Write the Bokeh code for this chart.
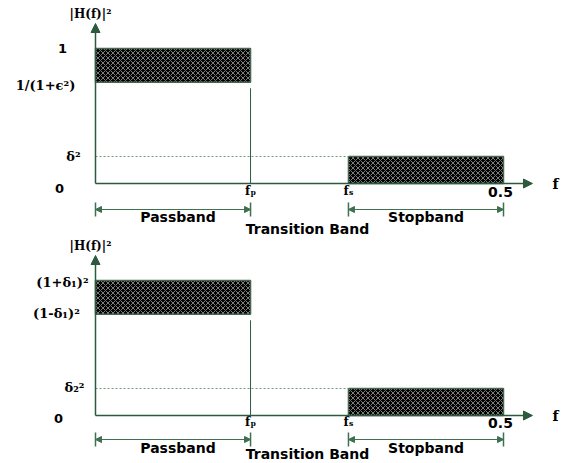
from bokeh.plotting import figure
from bokeh.models import Range1d, Arrow, NormalHead
from bokeh.core.properties import value
from bokeh.embed import file_html
from bokeh.resources import INLINE

# ---------------- data ----------------
f_pass = 0.19          # passband edge fp
f_stop = 0.31          # stopband edge fs
f_max = 0.5            # Nyquist
x_tick_labels = ["fₚ", "fₛ", "0.5"]

top_levels = [1.0, 0.75, 0.2]      # pass upper, pass lower, stop level
top_level_labels = ["1", "1/(1+ϵ²)", "δ²", "0"]
bot_levels = [1.0, 0.75, 0.2]
bot_level_labels = ["(1+δ₁)²", "(1-δ₁)²", "δ₂²", "0"]
band_labels = ["Passband", "Transition Band", "Stopband"]
y_title = "|H(f)|²"
x_title = "f"

# ---------------- layout ----------------
W, H = 562, 463
PX_X = 816.0   # px per unit of f
PX_Y = 135.0   # px per unit of magnitude
def dx(px):
    return px / PX_X
def dy(px):
    return px / PX_Y

x0 = -95 / PX_X
top_end = 1 + 48 / PX_Y
bot_start = -(H - 415) / PX_Y

p = figure(width=W, height=H, output_backend="svg", toolbar_location=None,
           x_range=Range1d(x0, x0 + W / PX_X),
           y_range=Range1d(top_end - H / PX_Y, top_end),
           x_axis_location=None, y_axis_location=None,
           min_border=0, outline_line_color=None, background_fill_color="white")
p.extra_y_ranges = {"bot": Range1d(bot_start, bot_start + H / PX_Y)}
p.grid.visible = False

AXIS_C = "#2c5a3c"
BOX_C = "#466650"
DIM_C = "#3f7050"
DASH_C = "#6f9a7c"
SERIF = value("DejaVu Serif")
SANS = value("DejaVu Sans")


def txt(x, y, s, rn, font, size, align="center"):
    p.text(x=[x], y=[y], text=[s], text_font=font, text_font_style="bold",
           text_font_size=size, text_align=align, text_baseline="middle",
           text_color="black", y_range_name=rn)


def panel(rn, levels, labels, lab_pos, below):
    upper, lower, stop = levels
    # hatched bands
    hatch = dict(fill_color="black", hatch_pattern="x", hatch_color="#7c7c7c",
                 hatch_scale=5, hatch_weight=1, line_color=BOX_C, line_width=1.5,
                 y_range_name=rn)
    p.quad(left=[0], right=[f_pass], bottom=[lower], top=[upper], **hatch)
    p.quad(left=[f_stop], right=[f_max], bottom=[0], top=[stop], **hatch)
    # axes with arrow heads
    head = dict(size=9, fill_color=AXIS_C, line_color=AXIS_C)
    p.add_layout(Arrow(x_start=0, y_start=0, x_end=0, y_end=upper + dy(25),
                       end=NormalHead(**head), line_color=AXIS_C, line_width=1.5,
                       y_range_name=rn))
    p.add_layout(Arrow(x_start=0, y_start=0, x_end=f_max * 1.071, y_end=0,
                       end=NormalHead(**head), line_color=AXIS_C, line_width=1.5,
                       y_range_name=rn))
    # fp vertical line and stop level dashed line
    p.segment(x0=[f_pass], y0=[0], x1=[f_pass], y1=[lower - dy(6)],
              line_color=AXIS_C, line_width=1, y_range_name=rn)
    p.segment(x0=[0], y0=[stop], x1=[f_stop], y1=[stop], line_color=DASH_C,
              line_width=1, line_dash="2 2", y_range_name=rn)
    # dimension arrows
    ya = -dy(below["arrow"])
    for a, b in [(0, f_pass), (f_stop, f_max)]:
        dh = dict(size=6, fill_color=DIM_C, line_color=DIM_C)
        p.add_layout(Arrow(x_start=a, y_start=ya, x_end=b, y_end=ya,
                           start=NormalHead(**dh), end=NormalHead(**dh),
                           line_color=DIM_C, line_width=1, y_range_name=rn))
    for xv in [0, f_pass, f_stop, f_max]:
        p.segment(x0=[xv], y0=[ya + dy(7)], x1=[xv], y1=[ya - dy(7)],
                  line_color=DIM_C, line_width=1.5, y_range_name=rn)
    # band labels
    yl = -dy(below["band"])
    txt(f_pass / 2 + dx(5), yl, band_labels[0], rn, SANS, "14px")
    txt((f_pass + f_stop) / 2 + dx(8), -dy(below["trans"]), band_labels[1], rn, SANS, "14px")
    txt((f_stop + f_max) / 2, yl, band_labels[2], rn, SANS, "14px")
    # x tick labels
    xl = -dy(below["tick"])
    txt(f_pass, xl, x_tick_labels[0], rn, SERIF, "12px")
    txt(f_stop, xl, x_tick_labels[1], rn, SERIF, "12px")
    txt(f_max - dx(3), xl - dy(1), x_tick_labels[2], rn, SANS, "14px")
    txt(f_max * 1.071 + dx(23), 0, x_title, rn, SERIF, "14px")
    # y titles / level labels
    txt(-dx(5), upper + dy(35), y_title, rn, SERIF, "12px")
    vals = [upper, lower, stop, 0]
    for v, s, (ox, oy) in zip(vals, labels, lab_pos):
        font = SANS if s in ("0", "1") else SERIF
        txt(dx(ox), v - dy(oy), s, rn, font, "13px")


panel("default", top_levels, top_level_labels,
      [(-33, 0), (-50, 3), (-22, 0), (-36, 5)],
      dict(arrow=26, band=33, trans=45, tick=7))
panel("bot", bot_levels, bot_level_labels,
      [(-33, 2), (-39, -1), (-21, -1), (-37, 3)],
      dict(arrow=24, band=32, trans=38, tick=6))

open("out.html", "w").write(file_html(p, INLINE))
